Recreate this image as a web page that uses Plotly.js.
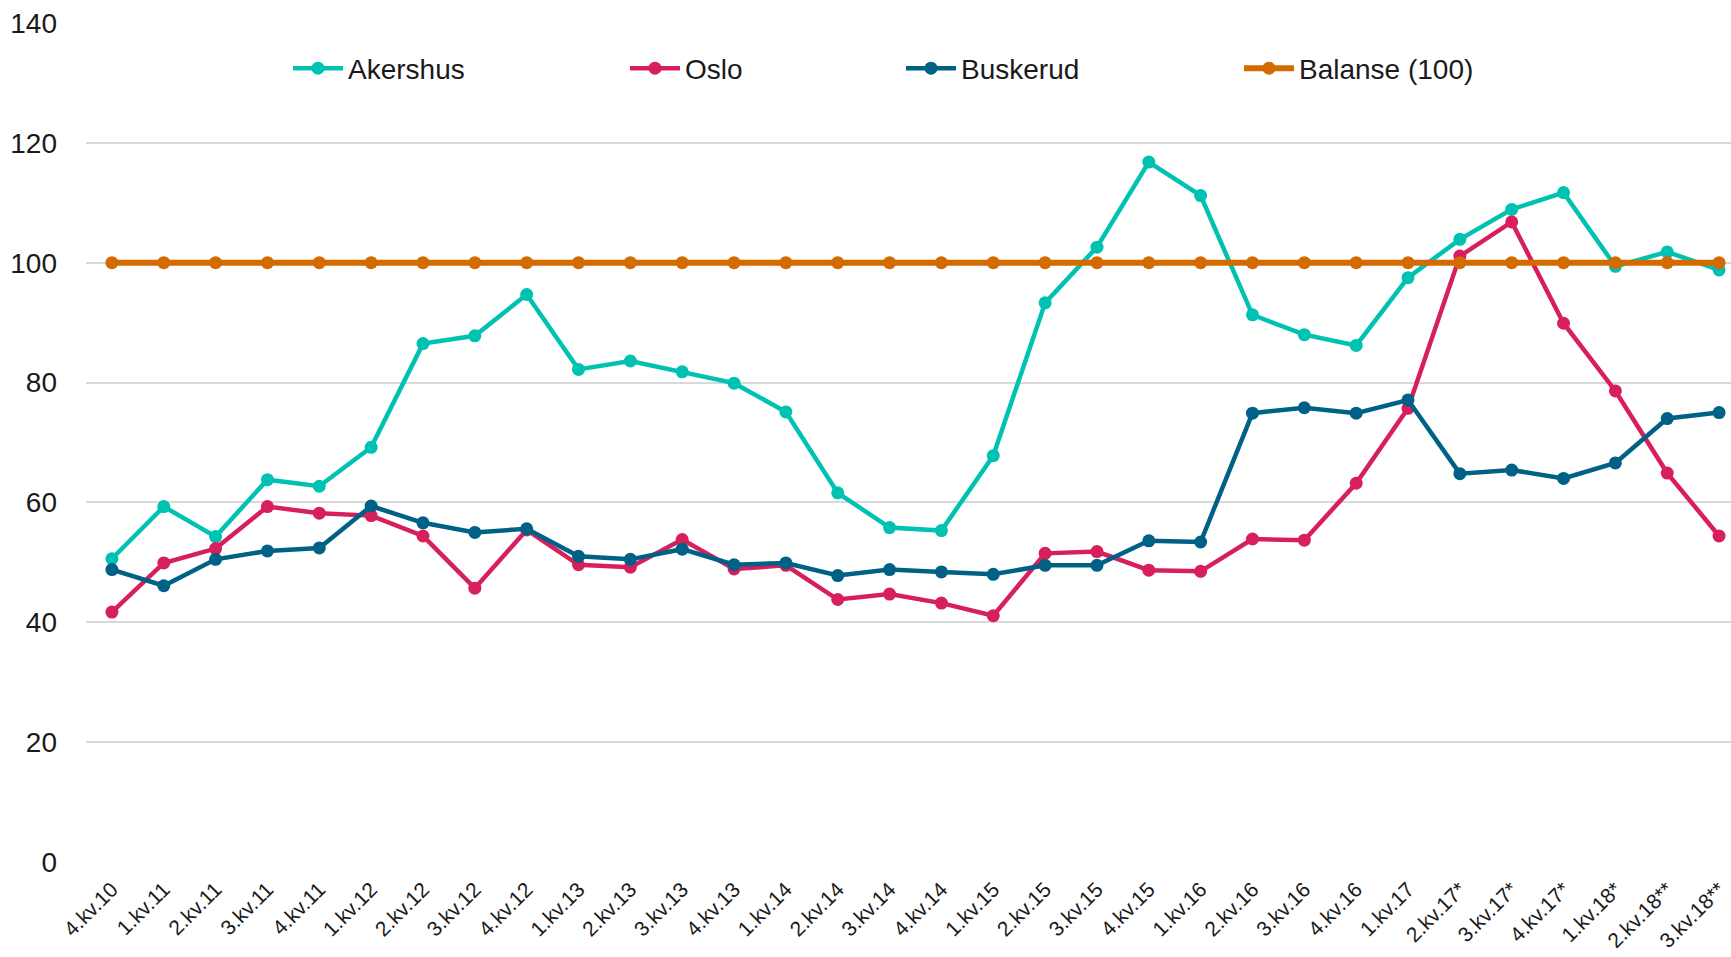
<!DOCTYPE html>
<html>
<head>
<meta charset="utf-8">
<script src="https://cdn.plot.ly/plotly-3.0.1.min.js"></script>
<style>html,body{margin:0;padding:0;background:#fff;}#chart{width:1731px;height:957px;}</style>
</head>
<body>
<div id="chart"></div>
<script>
var categories = ["4.kv.10","1.kv.11","2.kv.11","3.kv.11","4.kv.11","1.kv.12","2.kv.12","3.kv.12","4.kv.12",
  "1.kv.13","2.kv.13","3.kv.13","4.kv.13","1.kv.14","2.kv.14","3.kv.14","4.kv.14",
  "1.kv.15","2.kv.15","3.kv.15","4.kv.15","1.kv.16","2.kv.16","3.kv.16","4.kv.16",
  "1.kv.17","2.kv.17*","3.kv.17*","4.kv.17*","1.kv.18*","2.kv.18**","3.kv.18**"];
var akershus = [50.6,59.3,54.3,63.8,62.7,69.2,86.5,87.8,94.7,82.2,83.6,81.8,79.9,75.1,61.6,55.8,55.3,67.8,93.3,102.6,116.8,111.2,91.3,88.0,86.2,97.5,103.9,108.9,111.7,99.4,101.8,98.8];
var oslo = [41.7,49.9,52.3,59.3,58.2,57.8,54.4,45.7,55.4,49.6,49.2,53.8,48.9,49.5,43.8,44.7,43.2,41.1,51.5,51.8,48.7,48.5,53.9,53.7,63.2,75.7,101.1,106.8,89.9,78.6,64.9,54.4];
var buskerud = [48.8,46.1,50.5,51.9,52.4,59.4,56.6,55.0,55.6,51.0,50.5,52.2,49.6,49.9,47.8,48.8,48.4,48.0,49.5,49.5,53.6,53.4,74.9,75.8,74.9,77.1,64.8,65.4,64.0,66.6,74.0,75.0];
var balanse = [100,100,100,100,100,100,100,100,100,100,100,100,100,100,100,100,100,100,100,100,100,100,100,100,100,100,100,100,100,100,100,100];
var seriesNames = ["Akershus","Oslo","Buskerud","Balanse (100)"];
var yTicks = [0,20,40,60,80,100,120,140];

var colors = ["#00C2B2","#D81F5E","#006187","#D46B00"];
var widths = [4.5,4.5,4.5,6];
var data = [akershus, oslo, buskerud, balanse];
var legendIds = ["legend","legend2","legend3","legend4"];
var traces = [];
for (var i = 0; i < 4; i++) {
  traces.push({
    type: "scatter", mode: "lines+markers",
    x: categories, y: data[i], name: seriesNames[i],
    line: {color: colors[i], width: widths[i]},
    marker: {color: colors[i], size: 13, symbol: "circle"},
    legend: legendIds[i],
    hoverinfo: "x+y+name"
  });
}
var legendFont = {family: "Liberation Sans, Arial, sans-serif", size: 28, color: "#1a1a1a"};
function leg(px) {
  return {x: (px - 86) / 1645, xanchor: "left", y: 0.9458, yanchor: "middle", orientation: "h",
    font: legendFont, bgcolor: "rgba(0,0,0,0)", itemwidth: 50, borderwidth: 0};
}
var layout = {
  width: 1731, height: 957,
  margin: {l: 86, r: 0, t: 23, b: 95, pad: 0},
  paper_bgcolor: "#ffffff", plot_bgcolor: "#ffffff",
  font: {family: "Liberation Sans, Arial, sans-serif", color: "#1a1a1a"},
  xaxis: {
    type: "category", range: [-0.5, 31.23],
    showgrid: false, zeroline: false, showline: false,
    tickangle: -45, tickfont: {size: 21, color: "#1a1a1a"},
    ticks: "", ticklabelstandoff: 10
  },
  yaxis: {
    range: [0, 140], tickvals: yTicks, ticktext: yTicks.map(String),
    showgrid: true, gridcolor: "#d9d9d9", gridwidth: 2,
    zeroline: false, showline: false, ticks: "",
    tickfont: {size: 28, color: "#1a1a1a"}, ticklabelstandoff: 28
  },
  legend: leg(288),
  legend2: leg(625),
  legend3: leg(901),
  legend4: leg(1239),
  showlegend: true
};
Plotly.newPlot("chart", traces, layout, {displayModeBar: false, staticPlot: true});
</script>
</body>
</html>
